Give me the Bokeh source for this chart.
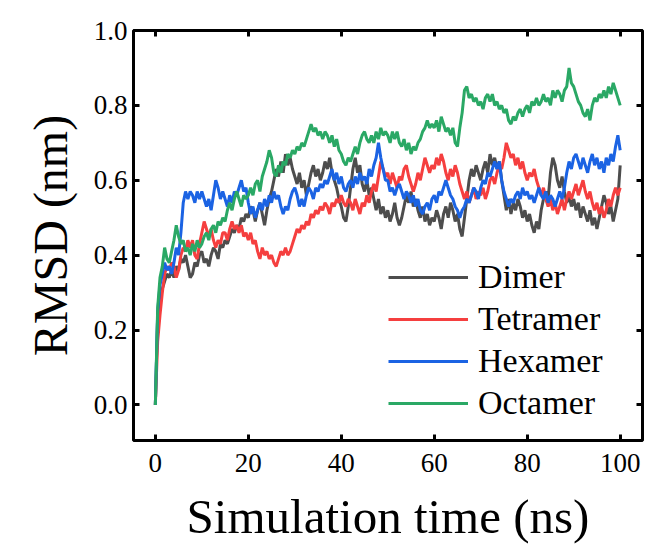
import numpy as np
from bokeh.plotting import figure
from bokeh.models import LinearAxis, Legend, LegendItem, Range1d, FixedTicker, CustomJSTickFormatter
from bokeh.embed import file_html
from bokeh.resources import INLINE

# time grid (ns), 0.5 ns spacing
time_ns = np.arange(0, 100.25, 0.5)

dimer = [
    0.00, 0.24, 0.28, 0.31, 0.33, 0.35, 0.34, 0.36, 0.34, 0.37, 0.36, 0.39, 0.38, 0.40, 0.37, 0.34, 0.35, 0.38, 0.37, 0.40,
    0.41, 0.38, 0.39, 0.37, 0.40, 0.42, 0.41, 0.39, 0.43, 0.42, 0.44, 0.43, 0.45, 0.47, 0.46, 0.48, 0.47, 0.50, 0.49, 0.51,
    0.50, 0.53, 0.52, 0.49, 0.52, 0.54, 0.51, 0.48, 0.52, 0.55, 0.57, 0.60, 0.63, 0.61, 0.65, 0.62, 0.67, 0.64, 0.66, 0.63,
    0.61, 0.59, 0.62, 0.58, 0.60, 0.56, 0.59, 0.62, 0.64, 0.61, 0.63, 0.60, 0.62, 0.65, 0.63, 0.66, 0.62, 0.60, 0.58, 0.55,
    0.53, 0.50, 0.49, 0.53, 0.58, 0.63, 0.66, 0.62, 0.64, 0.59, 0.57, 0.60, 0.56, 0.58, 0.55, 0.52, 0.55, 0.51, 0.53, 0.50,
    0.52, 0.49, 0.51, 0.54, 0.50, 0.48, 0.50, 0.53, 0.56, 0.54, 0.57, 0.53, 0.55, 0.52, 0.50, 0.53, 0.49, 0.51, 0.48, 0.50,
    0.49, 0.52, 0.50, 0.47, 0.51, 0.53, 0.50, 0.54, 0.52, 0.49, 0.51, 0.47, 0.45, 0.50, 0.55, 0.60, 0.63, 0.61, 0.64, 0.62,
    0.60, 0.63, 0.65, 0.62, 0.67, 0.64, 0.66, 0.63, 0.65, 0.60, 0.56, 0.52, 0.55, 0.51, 0.54, 0.52, 0.55, 0.53, 0.50, 0.52,
    0.49, 0.51, 0.48, 0.46, 0.49, 0.47, 0.52, 0.55, 0.57, 0.55, 0.62, 0.66, 0.64, 0.60, 0.58, 0.61, 0.57, 0.54, 0.56, 0.53,
    0.55, 0.52, 0.54, 0.50, 0.53, 0.51, 0.49, 0.52, 0.48, 0.50, 0.47, 0.50, 0.53, 0.56, 0.54, 0.51, 0.53, 0.49, 0.52, 0.55,
    0.64,
]

tetramer = [
    0.00, 0.17, 0.24, 0.30, 0.35, 0.37, 0.36, 0.38, 0.37, 0.34, 0.36, 0.40, 0.42, 0.41, 0.44, 0.42, 0.44, 0.40, 0.39, 0.43,
    0.46, 0.49, 0.47, 0.45, 0.47, 0.44, 0.42, 0.44, 0.43, 0.46, 0.46, 0.44, 0.47, 0.49, 0.47, 0.48, 0.46, 0.48, 0.45, 0.46,
    0.44, 0.46, 0.43, 0.44, 0.41, 0.39, 0.42, 0.40, 0.41, 0.39, 0.40, 0.38, 0.37, 0.39, 0.41, 0.40, 0.42, 0.40, 0.41, 0.43,
    0.45, 0.47, 0.46, 0.48, 0.47, 0.49, 0.48, 0.51, 0.50, 0.52, 0.51, 0.53, 0.52, 0.54, 0.53, 0.51, 0.54, 0.53, 0.55, 0.54,
    0.56, 0.54, 0.53, 0.55, 0.54, 0.52, 0.55, 0.53, 0.51, 0.54, 0.53, 0.56, 0.54, 0.57, 0.59, 0.57, 0.61, 0.65, 0.63, 0.61,
    0.62, 0.59, 0.62, 0.60, 0.58, 0.61, 0.60, 0.63, 0.64, 0.61, 0.59, 0.57, 0.59, 0.62, 0.60, 0.63, 0.66, 0.64, 0.62, 0.64,
    0.63, 0.66, 0.64, 0.67, 0.65, 0.62, 0.60, 0.63, 0.61, 0.64, 0.62, 0.59, 0.57, 0.55, 0.57, 0.54, 0.56, 0.58, 0.55, 0.57,
    0.56, 0.58, 0.55, 0.57, 0.60, 0.61, 0.59, 0.62, 0.64, 0.63, 0.66, 0.70, 0.68, 0.66, 0.67, 0.64, 0.66, 0.63, 0.65, 0.62,
    0.60, 0.62, 0.61, 0.63, 0.60, 0.58, 0.56, 0.58, 0.55, 0.53, 0.55, 0.52, 0.54, 0.51, 0.53, 0.55, 0.52, 0.55, 0.57, 0.55,
    0.57, 0.59, 0.56, 0.58, 0.60, 0.57, 0.55, 0.57, 0.54, 0.52, 0.54, 0.51, 0.53, 0.50, 0.52, 0.55, 0.53, 0.56, 0.58, 0.56,
    0.58,
]

hexamer = [
    0.00, 0.25, 0.32, 0.35, 0.38, 0.36, 0.37, 0.35, 0.38, 0.42, 0.40, 0.46, 0.54, 0.57, 0.55, 0.57, 0.56, 0.54, 0.57, 0.55,
    0.57, 0.55, 0.53, 0.55, 0.52, 0.56, 0.60, 0.58, 0.55, 0.57, 0.55, 0.53, 0.56, 0.54, 0.57, 0.56, 0.58, 0.60, 0.57, 0.58,
    0.54, 0.51, 0.53, 0.50, 0.52, 0.54, 0.52, 0.55, 0.53, 0.56, 0.54, 0.57, 0.55, 0.56, 0.53, 0.51, 0.53, 0.52, 0.55, 0.57,
    0.58, 0.56, 0.53, 0.55, 0.53, 0.56, 0.58, 0.57, 0.55, 0.58, 0.57, 0.59, 0.58, 0.60, 0.59, 0.61, 0.63, 0.60, 0.62, 0.59,
    0.61, 0.58, 0.57, 0.59, 0.60, 0.58, 0.61, 0.59, 0.62, 0.60, 0.61, 0.59, 0.63, 0.61, 0.64, 0.66, 0.70, 0.66, 0.63, 0.60,
    0.60, 0.57, 0.58, 0.56, 0.58, 0.59, 0.57, 0.55, 0.57, 0.56, 0.54, 0.56, 0.53, 0.55, 0.52, 0.51, 0.53, 0.54, 0.52, 0.55,
    0.56, 0.54, 0.57, 0.56, 0.58, 0.60, 0.58, 0.56, 0.55, 0.53, 0.52, 0.50, 0.52, 0.53, 0.55, 0.54, 0.56, 0.58, 0.57, 0.55,
    0.58, 0.60, 0.59, 0.62, 0.61, 0.63, 0.65, 0.63, 0.65, 0.60, 0.57, 0.55, 0.53, 0.55, 0.54, 0.56, 0.57, 0.55, 0.58, 0.56,
    0.57, 0.55, 0.56, 0.54, 0.56, 0.58, 0.56, 0.55, 0.57, 0.54, 0.56, 0.55, 0.53, 0.55, 0.57, 0.55, 0.58, 0.62, 0.65, 0.63,
    0.66, 0.67, 0.65, 0.63, 0.66, 0.64, 0.62, 0.65, 0.67, 0.64, 0.66, 0.63, 0.65, 0.62, 0.66, 0.64, 0.67, 0.65, 0.69, 0.72,
    0.68,
]

octamer = [
    0.00, 0.26, 0.34, 0.37, 0.42, 0.39, 0.38, 0.41, 0.44, 0.48, 0.45, 0.43, 0.44, 0.41, 0.42, 0.40, 0.43, 0.41, 0.44, 0.42,
    0.43, 0.45, 0.46, 0.44, 0.47, 0.48, 0.46, 0.49, 0.48, 0.50, 0.49, 0.52, 0.54, 0.52, 0.55, 0.57, 0.55, 0.53, 0.56, 0.55,
    0.56, 0.58, 0.56, 0.59, 0.60, 0.57, 0.61, 0.63, 0.65, 0.68, 0.66, 0.62, 0.61, 0.64, 0.62, 0.65, 0.64, 0.67, 0.66, 0.68,
    0.67, 0.69, 0.68, 0.70, 0.69, 0.71, 0.73, 0.75, 0.73, 0.74, 0.72, 0.73, 0.71, 0.73, 0.72, 0.70, 0.72, 0.69, 0.71, 0.68,
    0.67, 0.65, 0.64, 0.66, 0.65, 0.67, 0.69, 0.67, 0.70, 0.72, 0.73, 0.71, 0.70, 0.72, 0.70, 0.73, 0.71, 0.74, 0.72, 0.73,
    0.72, 0.70, 0.73, 0.71, 0.73, 0.70, 0.69, 0.71, 0.68, 0.70, 0.67, 0.69, 0.68, 0.70, 0.71, 0.73, 0.74, 0.76, 0.74, 0.75,
    0.74, 0.76, 0.73, 0.77, 0.75, 0.73, 0.74, 0.72, 0.74, 0.70, 0.69, 0.74, 0.78, 0.84, 0.85, 0.82, 0.83, 0.81, 0.82, 0.80,
    0.81, 0.79, 0.82, 0.83, 0.81, 0.83, 0.80, 0.81, 0.79, 0.80, 0.78, 0.79, 0.76, 0.75, 0.77, 0.76, 0.78, 0.79, 0.77, 0.79,
    0.80, 0.78, 0.81, 0.80, 0.82, 0.80, 0.81, 0.83, 0.81, 0.82, 0.80, 0.84, 0.82, 0.84, 0.83, 0.81, 0.84, 0.85, 0.90, 0.86,
    0.85, 0.83, 0.81, 0.80, 0.78, 0.77, 0.79, 0.76, 0.80, 0.82, 0.81, 0.83, 0.82, 0.84, 0.82, 0.85, 0.83, 0.86, 0.84, 0.82,
    0.80,
]

series_names = ["Dimer", "Tetramer", "Hexamer", "Octamer"]
series_values = [dimer, tetramer, hexamer, octamer]
series_colors = ["#4d4d4d", "#f53f3f", "#1b63e3", "#2aa865"]

x_ticks = [0, 20, 40, 60, 80, 100]
y_ticks = [0.0, 0.2, 0.4, 0.6, 0.8, 1.0]

FONT = "Liberation Serif"

p = figure(width=653, height=554, output_backend="svg", toolbar_location=None,
           x_range=Range1d(-4.7, 104.8), y_range=Range1d(-0.095, 1.0),
           min_border_left=133, min_border_right=11, min_border_top=30, min_border_bottom=114,
           x_axis_location=None, y_axis_location=None)
p.grid.visible = False
p.outline_line_color = "black"
p.outline_line_width = 3
p.background_fill_color = "white"
p.border_fill_color = "white"


def style_axis(ax, labels=True):
    ax.axis_line_color = None
    ax.major_tick_in = 6
    ax.major_tick_out = 0
    ax.major_tick_line_width = 3
    ax.major_tick_line_color = "black"
    ax.minor_tick_line_color = None
    ax.major_label_text_font = FONT
    ax.major_label_text_color = "black"
    ax.major_label_text_font_size = "27px"
    if not labels:
        ax.major_label_overrides = {t: "" for t in ax.ticker.ticks}
        ax.major_label_standoff = 0


bottom = LinearAxis(ticker=FixedTicker(ticks=x_ticks), axis_label="Simulation time (ns)")
style_axis(bottom)
bottom.major_label_standoff = 13
bottom.axis_label_text_font = FONT
bottom.axis_label_text_font_size = "49px"
bottom.axis_label_text_font_style = "normal"
bottom.axis_label_text_color = "black"
bottom.axis_label_standoff = 14
p.add_layout(bottom, "below")

left = LinearAxis(ticker=FixedTicker(ticks=y_ticks), axis_label="RMSD (nm)")
style_axis(left)
left.major_label_standoff = 6
left.axis_label_text_font = FONT
left.axis_label_text_font_size = "48px"
left.axis_label_text_font_style = "normal"
left.axis_label_text_color = "black"
left.axis_label_standoff = 14
left.formatter = CustomJSTickFormatter(code="return tick.toFixed(1);")
p.add_layout(left, "left")

top = LinearAxis(ticker=FixedTicker(ticks=x_ticks))
style_axis(top, labels=False)
p.add_layout(top, "above")
right = LinearAxis(ticker=FixedTicker(ticks=y_ticks))
style_axis(right, labels=False)
p.add_layout(right, "right")

items = []
for name, vals, col in zip(series_names, series_values, series_colors):
    r = p.line(time_ns, vals, line_color=col, line_width=3)
    items.append(LegendItem(label=name, renderers=[r]))

legend = Legend(items=items, location=(255, 16))
legend.background_fill_alpha = 0
legend.border_line_color = None
legend.label_text_font = FONT
legend.label_text_font_size = "34px"
legend.label_text_color = "black"
legend.glyph_width = 80
legend.glyph_height = 42
legend.label_height = 42
legend.label_standoff = 10
legend.spacing = 0
legend.padding = 0
legend.margin = 0
p.add_layout(legend, "center")

open("out.html", "w").write(file_html(p, INLINE))
